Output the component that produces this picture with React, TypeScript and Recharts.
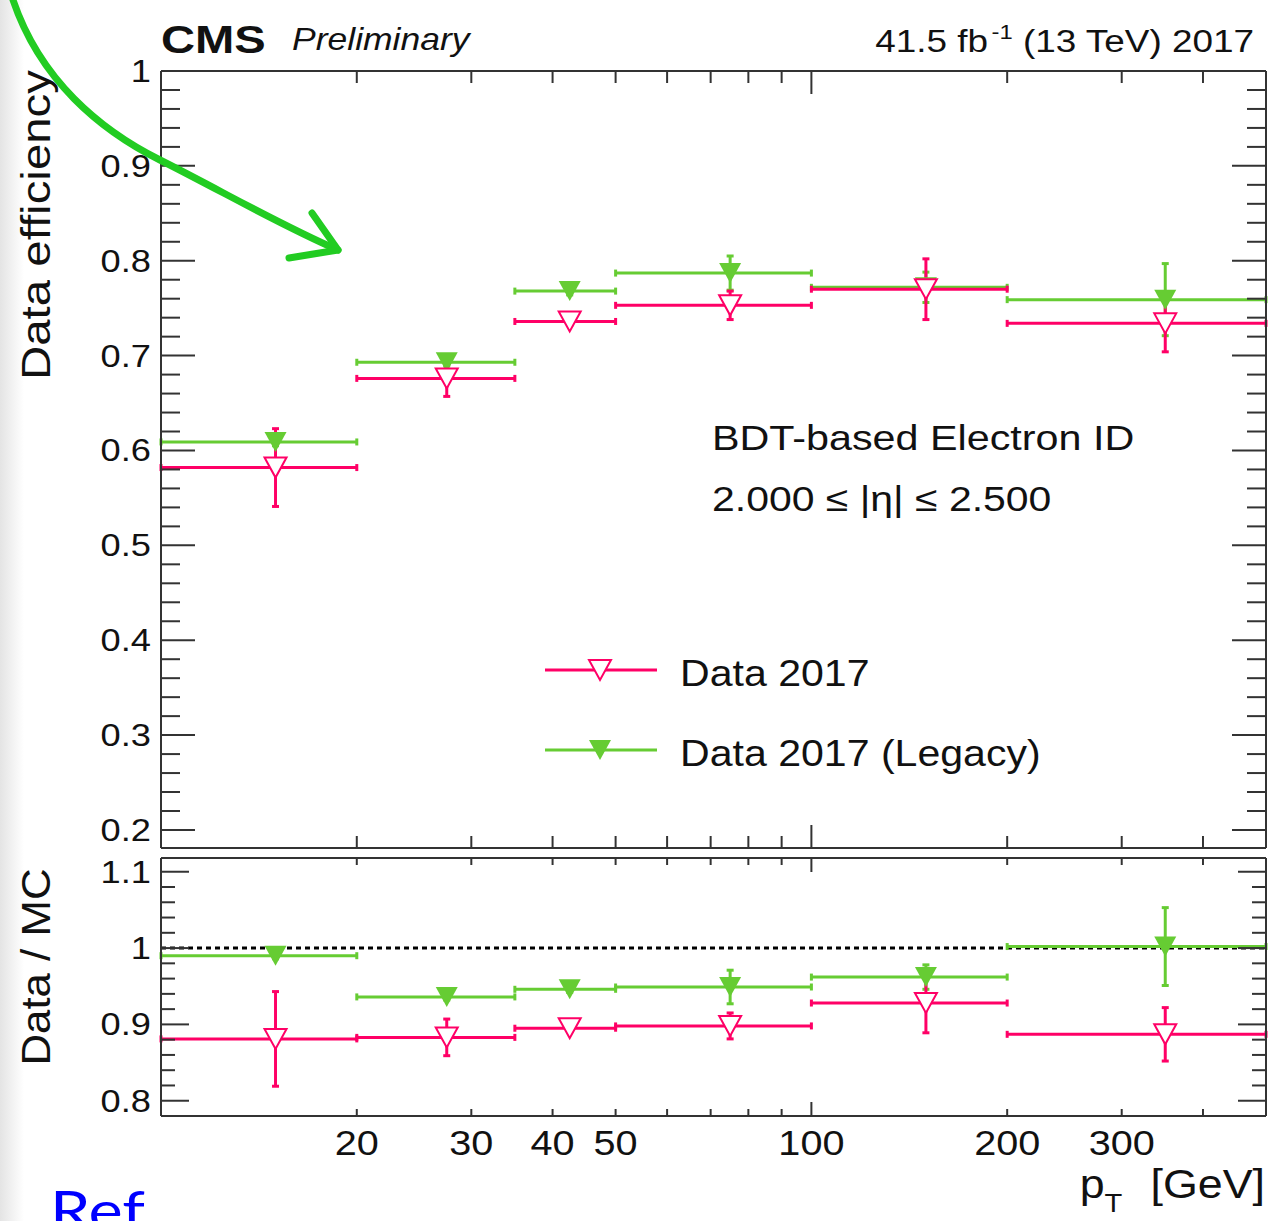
import React from "react";
import { ComposedChart, Scatter, ErrorBar, XAxis, YAxis, ReferenceLine } from "recharts";

// pT bins (GeV)
const binLow = [10, 20, 35, 50, 100, 200];
const binHigh = [20, 35, 50, 100, 200, 500];

// efficiency, top panel
const effData2017 = [0.582, 0.676, 0.736, 0.753, 0.77, 0.734];
const effData2017Err = [0.041, 0.019, 0.004, 0.015, 0.032, 0.03];
const effLegacy = [0.609, 0.693, 0.768, 0.787, 0.772, 0.759];
const effLegacyErr = [0.004, 0.004, 0.004, 0.018, 0.016, 0.038];

// data / MC, bottom panel
const ratioData2017 = [0.881, 0.883, 0.895, 0.898, 0.928, 0.887];
const ratioData2017Err = [0.062, 0.024, 0.004, 0.017, 0.039, 0.035];
const ratioLegacy = [0.99, 0.936, 0.946, 0.949, 0.962, 1.002];
const ratioLegacyErr = [0.004, 0.004, 0.004, 0.022, 0.016, 0.051];

// axis ticks
const xTicks = [20, 30, 40, 50, 60, 70, 80, 90, 100, 200, 300, 400];
const xTickLabels = [20, 30, 40, 50, 100, 200, 300];
const effTicks = [
  0.2, 0.22, 0.24, 0.26, 0.28, 0.3, 0.32, 0.34, 0.36, 0.38, 0.4, 0.42, 0.44, 0.46, 0.48,
  0.5, 0.52, 0.54, 0.56, 0.58, 0.6, 0.62, 0.64, 0.66, 0.68, 0.7, 0.72, 0.74, 0.76, 0.78,
  0.8, 0.82, 0.84, 0.86, 0.88, 0.9, 0.92, 0.94, 0.96, 0.98, 1.0,
];
const ratioTicks = [
  0.8, 0.82, 0.84, 0.86, 0.88, 0.9, 0.92, 0.94, 0.96, 0.98, 1.0, 1.02, 1.04, 1.06, 1.08, 1.1,
];

const PINK = "#ff0066";
const GREEN = "#66cc33";
const AXIS = "#333";
const FONT = "'Liberation Sans', Arial, sans-serif";

const makeRows = (vals: number[], errs: number[]) =>
  vals.map((v, i) => ({
    x: (binLow[i] + binHigh[i]) / 2,
    y: v,
    xerr: (binHigh[i] - binLow[i]) / 2,
    yerr: errs[i],
  }));

const isMajor = (v: number) => Math.abs(v * 10 - Math.round(v * 10)) < 1e-6;
const fmtY = (v: number) => (Math.abs(v - Math.round(v)) < 1e-6 ? String(Math.round(v)) : v.toFixed(1));

// ROOT-ish text is a bit wider than Liberation Sans, so stretch it horizontally
function Txt(props: any) {
  const { x, y, sx = 1.17, anchor = "start", size, children, ...rest } = props;
  return (
    <text
      transform={`translate(${x},${y}) scale(${sx},1)`}
      textAnchor={anchor}
      fontSize={size}
      fontFamily={FONT}
      fill="#111"
      {...rest}
    >
      {children}
    </text>
  );
}

const OpenTriangle = (props: any) => {
  const { cx, cy } = props;
  return (
    <path
      d={`M${cx - 11},${cy - 10} L${cx + 11},${cy - 10} L${cx},${cy + 10} Z`}
      fill="#fff"
      stroke={PINK}
      strokeWidth={2}
    />
  );
};

const FullTriangle = (props: any) => {
  const { cx, cy } = props;
  return <path d={`M${cx - 11},${cy - 10} L${cx + 11},${cy - 10} L${cx},${cy + 10} Z`} fill={GREEN} />;
};

function makeYTick(side: "left" | "right", majorLen: number, minorLen: number, labels: boolean) {
  return (p: any) => {
    const v = p.payload.value;
    const len = isMajor(v) ? majorLen : minorLen;
    const dir = side === "left" ? 1 : -1;
    return (
      <g>
        <line x1={p.x} y1={p.y} x2={p.x + dir * len} y2={p.y} stroke={AXIS} strokeWidth={2} />
        {labels && isMajor(v) && (
          <Txt x={p.x - 10} y={p.y + 11} anchor="end" size={31} sx={1.17}>
            {fmtY(v)}
          </Txt>
        )}
      </g>
    );
  };
}

function makeXTick(side: "top" | "bottom", len: number, longLen: number, labels: boolean) {
  return (p: any) => {
    const v = p.payload.value;
    const l = v === 100 ? longLen : len;
    const dir = side === "bottom" ? -1 : 1;
    return (
      <g>
        <line x1={p.x} y1={p.y} x2={p.x} y2={p.y + dir * l} stroke={AXIS} strokeWidth={2} />
        {labels && xTickLabels.includes(v) && (
          <Txt x={p.x} y={p.y + 39} anchor="middle" size={36} sx={1.1}>
            {v}
          </Txt>
        )}
      </g>
    );
  };
}

const axisLine = { stroke: AXIS, strokeWidth: 2 };

function Panel(props: {
  height: number;
  top: number;
  bottomAxisHeight: number;
  marginBottom: number;
  domain: [number, number];
  yTicks: number[];
  yMajor: number;
  yMinor: number;
  xLen: number;
  xLong: number;
  xLabels: boolean;
  legacy: any[];
  data2017: any[];
  refLine?: boolean;
}) {
  const common = { tickLine: false, tickSize: 0, tickMargin: 0, axisLine, interval: 0 as const };
  const hidden = () => <g />;
  return (
    <ComposedChart
      width={1272}
      height={props.height}
      margin={{ top: props.top - 1, right: 5, bottom: props.marginBottom, left: 0 }}
    >
      <XAxis
        xAxisId="b"
        type="number"
        dataKey="x"
        scale="log"
        domain={[10, 500]}
        allowDataOverflow
        ticks={xTicks}
        orientation="bottom"
        height={props.bottomAxisHeight}
        tick={makeXTick("bottom", props.xLen, props.xLong, props.xLabels)}
        {...common}
      />
      <XAxis
        xAxisId="t"
        type="number"
        dataKey="x"
        scale="log"
        domain={[10, 500]}
        allowDataOverflow
        ticks={xTicks}
        orientation="top"
        height={1}
        tick={makeXTick("top", props.xLen, props.xLong, false)}
        {...common}
      />
      <YAxis
        yAxisId="l"
        type="number"
        dataKey="y"
        domain={props.domain}
        allowDataOverflow
        ticks={props.yTicks}
        width={161}
        tick={makeYTick("left", props.yMajor, props.yMinor, true)}
        {...common}
      />
      <YAxis
        yAxisId="r"
        type="number"
        dataKey="y"
        orientation="right"
        domain={props.domain}
        allowDataOverflow
        ticks={props.yTicks}
        width={1}
        tick={makeYTick("right", props.yMajor, props.yMinor, false)}
        {...common}
      />
      {props.refLine && (
        <ReferenceLine xAxisId="b" yAxisId="l" y={1} stroke="#000" strokeWidth={3} strokeDasharray="5 4" />
      )}
      {/* keeps the mirrored top/right axes bound to data */}
      <Scatter xAxisId="t" yAxisId="r" data={props.legacy} shape={hidden} isAnimationActive={false} />
      <Scatter xAxisId="b" yAxisId="l" data={props.legacy} shape={FullTriangle} isAnimationActive={false}>
        <ErrorBar dataKey="xerr" direction="x" width={3.5} stroke={GREEN} strokeWidth={3} isAnimationActive={false} />
        <ErrorBar dataKey="yerr" direction="y" width={3.5} stroke={GREEN} strokeWidth={3} isAnimationActive={false} />
      </Scatter>
      <Scatter xAxisId="b" yAxisId="l" data={props.data2017} shape={OpenTriangle} isAnimationActive={false}>
        <ErrorBar dataKey="xerr" direction="x" width={3.5} stroke={PINK} strokeWidth={3} isAnimationActive={false} />
        <ErrorBar dataKey="yerr" direction="y" width={3.5} stroke={PINK} strokeWidth={3} isAnimationActive={false} />
      </Scatter>
    </ComposedChart>
  );
}

export default function App() {
  return (
    <div
      style={{
        position: "relative",
        width: 1272,
        height: 1221,
        background: "#fff",
        overflow: "hidden",
        fontFamily: FONT,
      }}
    >
      <style>{`body{margin:0}`}</style>
      <div
        style={{
          position: "absolute",
          left: 0,
          top: 0,
          width: 24,
          height: 1221,
          background: "linear-gradient(to right, #e4e4e4, #ffffff)",
        }}
      />
      <div style={{ position: "absolute", left: 0, top: 0 }}>
        <Panel
          height={850}
          top={71}
          bottomAxisHeight={1}
          marginBottom={1}
          domain={[0.181, 1.0]}
          yTicks={effTicks}
          yMajor={34}
          yMinor={19}
          xLen={12}
          xLong={23}
          xLabels={false}
          legacy={makeRows(effLegacy, effLegacyErr)}
          data2017={makeRows(effData2017, effData2017Err)}
        />
      </div>
      <div style={{ position: "absolute", left: 0, top: 850 }}>
        <Panel
          height={371}
          top={8}
          bottomAxisHeight={105}
          marginBottom={0}
          domain={[0.78, 1.118]}
          yTicks={ratioTicks}
          yMajor={28}
          yMinor={14}
          xLen={7}
          xLong={14}
          xLabels={true}
          legacy={makeRows(ratioLegacy, ratioLegacyErr)}
          data2017={makeRows(ratioData2017, ratioData2017Err)}
          refLine
        />
      </div>
      <svg
        width={1272}
        height={1221}
        style={{ position: "absolute", left: 0, top: 0, pointerEvents: "none" }}
        fontFamily={FONT}
      >
        <Txt x={161} y={53} size={39} sx={1.21} fontWeight="bold">
          CMS
        </Txt>
        <Txt x={292} y={50} size={32} sx={1.11} fontStyle="italic">
          Preliminary
        </Txt>
        <Txt x={1254} y={52} size={31} sx={1.19} anchor="end">
          41.5 fb
          <tspan fontSize={20} dy={-13} dx={3}>
            -1
          </tspan>
          <tspan dy={13}> (13 TeV) 2017</tspan>
        </Txt>

        <text
          transform="translate(50,225) rotate(-90)"
          textAnchor="middle"
          fontSize={41}
          textLength={310}
          lengthAdjust="spacingAndGlyphs"
          fill="#111"
        >
          Data efficiency
        </text>
        <text
          transform="translate(50,967) rotate(-90)"
          textAnchor="middle"
          fontSize={41}
          textLength={197}
          lengthAdjust="spacingAndGlyphs"
          fill="#111"
        >
          Data / MC
        </text>

        <Txt x={1265} y={1198} size={40} sx={1.12} anchor="end">
          p
          <tspan fontSize={26} dy={14}>
            T
          </tspan>
          <tspan dy={-14} dx={14}>{"  [GeV]"}</tspan>
        </Txt>

        <Txt x={712} y={450} size={35} sx={1.18}>
          BDT-based Electron ID
        </Txt>
        <Txt x={712} y={511} size={35} sx={1.17}>
          2.000 ≤ |η| ≤ 2.500
        </Txt>

        <line x1={545} y1={670} x2={657} y2={670} stroke={PINK} strokeWidth={3} />
        <path d="M589,660 L611,660 L600,680 Z" fill="#fff" stroke={PINK} strokeWidth={2} />
        <Txt x={680} y={686} size={37} sx={1.11}>
          Data 2017
        </Txt>
        <line x1={545} y1={750} x2={657} y2={750} stroke={GREEN} strokeWidth={3} />
        <path d="M589,740 L611,740 L600,760 Z" fill={GREEN} />
        <Txt x={680} y={766} size={37} sx={1.11}>
          Data 2017 (Legacy)
        </Txt>

        <path
          d="M13,0 C40,80 100,130 160,160 S280,225 338,250"
          fill="none"
          stroke="#22cc22"
          strokeWidth={7}
          strokeLinecap="round"
        />
        <path
          d="M312,213 L338,250 L289,258"
          fill="none"
          stroke="#22cc22"
          strokeWidth={7}
          strokeLinecap="round"
          strokeLinejoin="round"
        />

        <text
          x={50}
          y={1230}
          fontSize={54}
          textLength={95}
          lengthAdjust="spacingAndGlyphs"
          fill="#0000ff"
          fontFamily="Lato, sans-serif"
        >
          Ref
        </text>
      </svg>
    </div>
  );
}
